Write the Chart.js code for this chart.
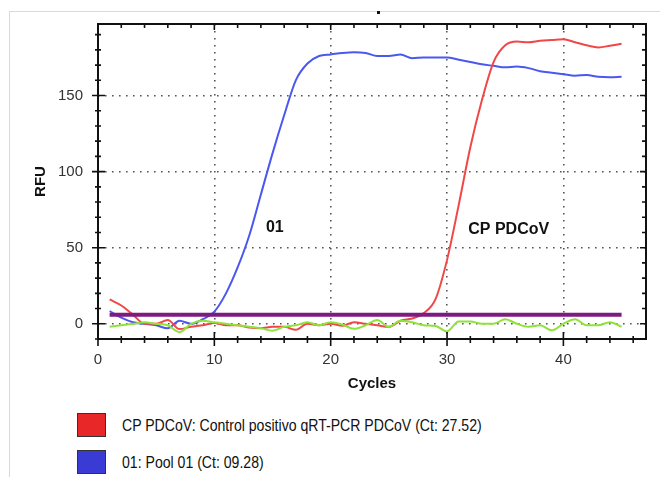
<!DOCTYPE html>
<html>
<head>
<meta charset="utf-8">
<script src="https://cdn.jsdelivr.net/npm/chart.js@4"></script>
<style>
  body { margin: 0; width: 660px; height: 477px; overflow: hidden; background: #fff; position: relative; }
  #frame { position: absolute; left: 9px; top: 11px; width: 700px; height: 500px; border: 1px solid #d9d9d9; }
  #wrap { position: absolute; left: 0; top: 0; width: 660px; height: 400px; }
  #dot { position: absolute; left: 377px; top: 11px; width: 3px; height: 3px; background: #111; }
  .item { position: absolute; left: 77px; height: 24px; }
  .box { position: absolute; left: 0; top: 0; width: 27px; height: 22px; border: 1px solid #333; }
  .lbl { position: absolute; left: 45px; top: 1px; line-height: 24px; white-space: nowrap;
         font-family: "Liberation Sans", Arial, sans-serif; font-size: 16px; color: #111;
         transform: scaleX(0.88); transform-origin: left center; }
</style>
</head>
<body>
<div id="frame"></div>
<div id="dot"></div>
<div id="wrap"><canvas id="myChart" width="660" height="400"></canvas></div>
<div class="item" style="top:413px"><div class="box" style="background:#e82828"></div><div class="lbl" id="lbl0"></div></div>
<div class="item" style="top:450px"><div class="box" style="background:#3a3ad4"></div><div class="lbl" id="lbl1"></div></div>
<script>
// cycles
const cycles = [1,2,3,4,5,6,7,8,9,10,11,12,13,14,15,16,17,18,19,20,21,22,23,24,25,26,27,28,29,30,31,32,33,34,35,36,37,38,39,40,41,42,43,44,45];

// CP PDCoV (control positivo)
const cpValues = [16,12,6,0,0,2.5,-3.5,-2,-1,0.5,-1,-1,-2.5,-3,-2,-2,-4,0,-1,0,-1.3,1,0,-1,-2,2,3.5,7,16,42,78,116,147,172,183,185.5,185,186,186.5,187,185,183,181.6,182.7,184];

// 01: Pool 01
const poolValues = [8.4,4,1,0,-1,-3,2,0,3,8,20,37,58,85,112,137,160,171,176,177,178,178.5,178,176,176,177,174.5,175,175,175,173.5,172,170.5,169.5,168.5,169,168,166,165,164,163,163.5,162.3,162,162.3];

// negative control (green)
const negValues = [-2,-1,0,1,0,-1,-5.5,0,2,1,0,-1,-2,-3,-4.5,-2,-1,1,-1,1,-0.5,-3.3,-1,2.5,-2,2,1,-1,-1.5,-5,1.5,1.5,0,0,3,0,-2,-1,-4.3,0,3,-1,-1,1,-2];

const threshold = 6;

const xTicks = [0,10,20,30,40];
const yTicks = [0,50,100,150];
const xMinor = [2,4,6,8,12,14,16,18,22,24,26,28,32,34,36,38,42,44,46];
const yMinor = [-10,10,20,30,40,60,70,80,90,110,120,130,140,160,170,180,190];

const legendLabels = ["CP PDCoV: Control positivo qRT-PCR PDCoV (Ct: 27.52)", "01: Pool 01 (Ct: 09.28)"];
const curveLabels = [{text: "01", x: 15.2, y: 63}, {text: "CP PDCoV", x: 35.3, y: 61.7}];

document.getElementById("lbl0").textContent = legendLabels[0];
document.getElementById("lbl1").textContent = legendLabels[1];

function pts(vals) {
	return cycles.map((c, i) => ({x: c, y: vals[i]}));
}

// frame, minor ticks and curve names
const extras = {
	id: 'extras',
	afterDatasetsDraw(chart) {
		const ctx = chart.ctx;
		const a = chart.chartArea;
		const xs = chart.scales.x, ys = chart.scales.y;
		ctx.save();
		ctx.strokeStyle = '#111';
		ctx.lineWidth = 2;
		ctx.strokeRect(a.left, a.top, a.right - a.left, a.bottom - a.top);
		ctx.lineWidth = 1.6;
		ctx.beginPath();
		xTicks.forEach(v => {
			const p = xs.getPixelForValue(v);
			ctx.moveTo(p, a.bottom - 7); ctx.lineTo(p, a.bottom + 7);
			ctx.moveTo(p, a.top); ctx.lineTo(p, a.top + 6);
		});
		xMinor.forEach(v => {
			const p = xs.getPixelForValue(v);
			ctx.moveTo(p, a.bottom - 3); ctx.lineTo(p, a.bottom + 4);
			ctx.moveTo(p, a.top); ctx.lineTo(p, a.top + 4);
		});
		yTicks.forEach(v => {
			const p = ys.getPixelForValue(v);
			ctx.moveTo(a.left - 6, p); ctx.lineTo(a.left + 7, p);
			ctx.moveTo(a.right, p); ctx.lineTo(a.right - 6, p);
		});
		yMinor.forEach(v => {
			const p = ys.getPixelForValue(v);
			ctx.moveTo(a.left - 3, p); ctx.lineTo(a.left + 3, p);
			ctx.moveTo(a.right, p); ctx.lineTo(a.right - 4, p);
		});
		ctx.stroke();
		ctx.fillStyle = '#111';
		ctx.font = 'bold 16px "Liberation Sans", Arial, sans-serif';
		ctx.textAlign = 'center';
		ctx.textBaseline = 'middle';
		curveLabels.forEach(l => {
			ctx.fillText(l.text, xs.getPixelForValue(l.x), ys.getPixelForValue(l.y));
		});
		ctx.restore();
	}
};

const tickFont = {family: '"Liberation Sans", Arial, sans-serif', size: 15};
const titleFont = {family: '"Liberation Sans", Arial, sans-serif', size: 15, weight: 'bold'};
const gridStyle = {color: '#555', lineWidth: 1.6, drawTicks: false};
// in v4 the dash of the grid lines lives on the border options
const dotted = {display: false, dash: [1.6, 5.4]};

const myChart = new Chart(document.getElementById("myChart"), {
	type: 'line',
	data: {
		datasets: [
			{label: 'threshold', data: [{x: cycles[0], y: threshold}, {x: cycles[cycles.length - 1], y: threshold}], borderColor: '#7e1a80', borderWidth: 4, pointRadius: 0},
			{label: 'neg', data: pts(negValues), borderColor: '#8fe23a', borderWidth: 2, pointRadius: 0, cubicInterpolationMode: 'monotone'},
			{label: 'CP PDCoV', data: pts(cpValues), borderColor: '#f04848', borderWidth: 2, pointRadius: 0, cubicInterpolationMode: 'monotone'},
			{label: '01', data: pts(poolValues), borderColor: '#4a58f0', borderWidth: 2, pointRadius: 0, cubicInterpolationMode: 'monotone'}
		]
	},
	options: {
		responsive: false,
		animation: false,
		layout: {padding: {left: 28, top: 20, right: 14, bottom: 0}},
		plugins: {legend: {display: false}, tooltip: {enabled: false}},
		scales: {
			x: {
				type: 'linear', min: 0, max: 47.1,
				afterBuildTicks: s => { s.ticks = xTicks.map(v => ({value: v})); },
				afterFit: s => { s.height = 61; },
				ticks: {font: tickFont, color: '#333', padding: 12, maxRotation: 0},
				grid: gridStyle,
				border: dotted,
				title: {display: true, text: 'Cycles', font: titleFont, color: '#111', padding: {top: 4, bottom: 7}}
			},
			y: {
				type: 'linear', min: -10, max: 197,
				afterBuildTicks: s => { s.ticks = yTicks.map(v => ({value: v})); },
				afterFit: s => { s.width = 70; },
				ticks: {font: tickFont, color: '#333', padding: 15},
				grid: gridStyle,
				border: dotted,
				title: {display: true, text: 'RFU', font: titleFont, color: '#111', padding: {top: 4, bottom: 4}}
			}
		}
	},
	plugins: [extras]
});
</script>
</body>
</html>
